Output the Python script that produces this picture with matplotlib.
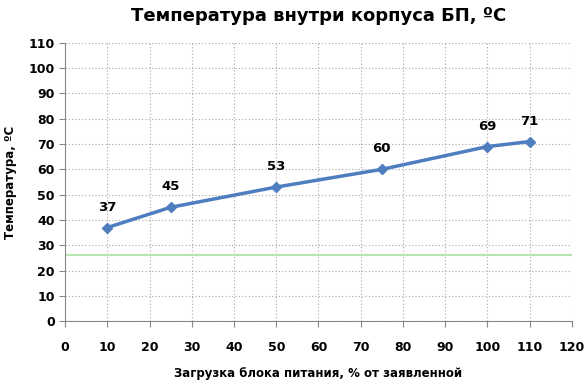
import matplotlib
matplotlib.use("Agg")
import matplotlib.pyplot as plt

load = [10, 25, 50, 75, 100, 110]
temp = [37, 45, 53, 60, 69, 71]
ambient = 26

plt.rcParams['font.family'] = ['DejaVu Sans']

fig = plt.figure(figsize=(5.86, 3.86), dpi=100)
ax = fig.add_axes([0.111, 0.168, 0.865, 0.721])

ax.plot(load, temp, color='#4F7EC0', lw=2.5, marker='D', ms=5.5, zorder=3)
ax.axhline(ambient, color='#B5E6B0', lw=1.5, zorder=2)

for x, y in zip(load, temp):
    ax.annotate(str(y), (x, y), xytext=(0, 10), textcoords='offset points',
                ha='center', va='bottom', fontsize=9.5, fontweight='bold')

ax.set_xlim(0, 120)
ax.set_ylim(0, 110)
ax.set_xticks(range(0, 121, 10))
ax.set_yticks(range(0, 111, 10))
ax.grid(True, color='#A8A8A8', ls=(0, (1, 2)), lw=0.8)
ax.set_axisbelow(True)
for s in ['top', 'right']:
    ax.spines[s].set_visible(False)
for s in ['left', 'bottom']:
    ax.spines[s].set_color('#888888')
ax.tick_params(colors='#888888', labelcolor='black', labelsize=9, length=4)
ax.tick_params(axis='x', pad=10)
for lbl in ax.get_xticklabels() + ax.get_yticklabels():
    lbl.set_fontweight('bold')

ax.set_title('Температура внутри корпуса БП, ºС', fontsize=13, fontweight='bold', pad=16)
ax.set_xlabel('Загрузка блока питания, % от заявленной', fontsize=8.5, fontweight='bold', labelpad=10)
ax.set_ylabel('Температура, ºС', fontsize=8.5, fontweight='bold', labelpad=8)

fig.savefig('out.png', dpi=100)
